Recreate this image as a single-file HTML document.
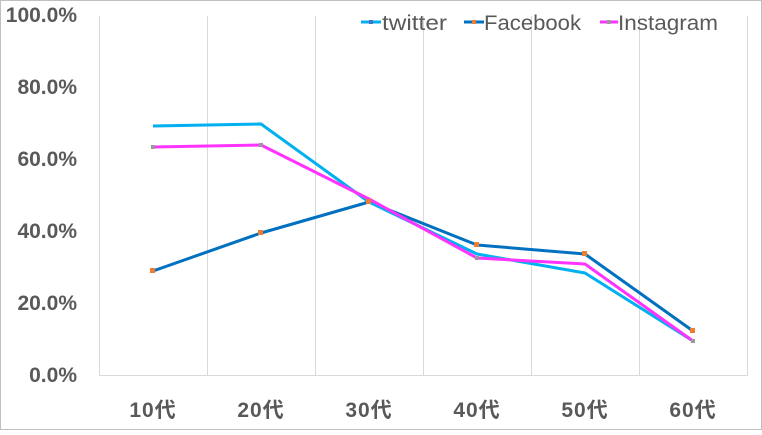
<!DOCTYPE html><html><head><meta charset="utf-8"><style>body{margin:0;background:#fff}</style></head><body>
<svg width="762" height="430" xmlns="http://www.w3.org/2000/svg" font-family="Liberation Sans, Noto Sans CJK JP, sans-serif">
<rect x="0.5" y="0.5" width="761" height="429" fill="#fff" stroke="#bfbfbf"/>
<g stroke="#d9d9d9" stroke-width="1">
<line x1="99.5" y1="16" x2="99.5" y2="375"/><line x1="207.5" y1="16" x2="207.5" y2="375"/><line x1="315.5" y1="16" x2="315.5" y2="375"/><line x1="423.5" y1="16" x2="423.5" y2="375"/><line x1="531.5" y1="16" x2="531.5" y2="375"/><line x1="639.5" y1="16" x2="639.5" y2="375"/><line x1="747.5" y1="16" x2="747.5" y2="375"/>
<line x1="99" y1="375.5" x2="748" y2="375.5"/>
</g>
<g fill="#595959" font-size="21" font-weight="bold" text-anchor="end">
<text x="77" y="22">100.0%</text><text x="77" y="94">80.0%</text><text x="77" y="166">60.0%</text><text x="77" y="238">40.0%</text><text x="77" y="310">20.0%</text><text x="77" y="382">0.0%</text>
</g>
<g fill="#595959" font-size="21" font-weight="bold" text-anchor="middle" letter-spacing="1">
<text x="153" y="417">10代</text><text x="261" y="417">20代</text><text x="369" y="417">30代</text><text x="477" y="417">40代</text><text x="585" y="417">50代</text><text x="693" y="417">60代</text>
</g>
<g fill="none" stroke-width="3" stroke-linejoin="round">
<polyline stroke="#0070c0" points="153,271 261,233 369,202 477,245 585,254 693,331"/>
<polyline stroke="#00b0f0" points="153,126 261,124 369,202 477,254 585,273 693,341"/>
<polyline stroke="#ff33ff" points="153,147 261,145 369,199 477,258 585,264 693,341"/>
</g>
<g fill="#ed7d31"><rect x="150" y="268" width="5" height="5"/><rect x="258" y="230" width="5" height="5"/><rect x="366" y="199" width="5" height="5"/><rect x="474" y="242" width="5" height="5"/><rect x="582" y="251" width="5" height="5"/><rect x="690" y="328" width="5" height="5"/></g>
<g fill="#999"><rect x="151" y="145" width="4" height="4"/><rect x="259" y="143" width="4" height="4"/><rect x="475" y="256" width="4" height="4"/><rect x="691" y="339" width="4" height="4"/></g>
<g font-size="21" fill="#595959">
<line x1="361" y1="22" x2="381" y2="22" stroke="#00b0f0" stroke-width="3"/><rect x="369" y="20" width="4" height="4" fill="#4472c4"/>
<text x="382" y="30" textLength="65" lengthAdjust="spacingAndGlyphs">twitter</text>
<line x1="464" y1="22" x2="484" y2="22" stroke="#0070c0" stroke-width="3"/><rect x="472" y="20" width="4" height="4" fill="#ed7d31"/>
<text x="484" y="30" textLength="97" lengthAdjust="spacingAndGlyphs">Facebook</text>
<line x1="600" y1="22" x2="618" y2="22" stroke="#ff33ff" stroke-width="3"/><rect x="607" y="20" width="4" height="4" fill="#999"/>
<text x="618" y="30" textLength="100" lengthAdjust="spacingAndGlyphs">Instagram</text>
</g>
</svg>
</body></html>
